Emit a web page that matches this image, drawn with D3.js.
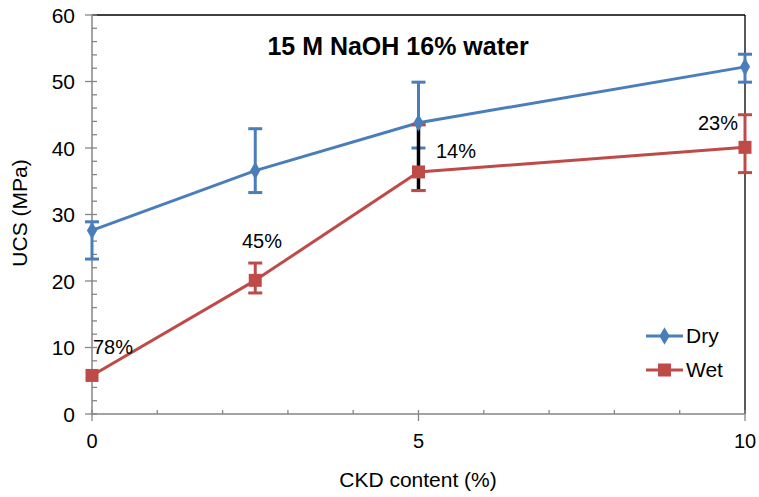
<!DOCTYPE html>
<html><head><meta charset="utf-8">
<script src="https://cdn.jsdelivr.net/npm/d3@7"></script>
<style>body{margin:0;background:#fff}svg{display:block;font-family:"Liberation Sans",Arial,sans-serif}</style>
</head><body><svg id="c" width="759" height="497"></svg>
<script>
const xVals = [0, 2.5, 5, 10];
const dry = [27.6, 36.6, 43.8, 52.2];
const dryLo = [23.3, 33.3, 40.0, 49.9];
const dryHi = [28.9, 42.9, 49.9, 54.1];
const wet = [5.8, 20.1, 36.4, 40.1];
const wetLo = [5.8, 18.2, 33.6, 36.3];
const wetHi = [5.8, 22.7, 43.5, 45.0];
const labels = ["78%", "45%", "14%", "23%"];
const xTicks = [0, 5, 10];
const yTicks = [0, 10, 20, 30, 40, 50, 60];
const title = "15 M NaOH 16% water";

const svg = d3.select("#c");
const L = 92, T = 15, R = 745, B = 414;
const x = d3.scaleLinear().domain([0, 10]).range([L, R]);
const y = d3.scaleLinear().domain([0, 60]).range([B, T]);
const blue = "#4a7ebb", red = "#be4b48", gray = "#868686";

// frame top/right
svg.append("line").attr("x1", L).attr("x2", R).attr("y1", T).attr("y2", T).attr("stroke", "#000").attr("stroke-width", 1.3);
svg.append("line").attr("x1", R).attr("x2", R).attr("y1", T).attr("y2", B).attr("stroke", "#000").attr("stroke-width", 1.3);

// y axis
const ga = svg.append("g");
ga.append("line").attr("x1", L).attr("x2", L).attr("y1", T).attr("y2", B).attr("stroke", gray).attr("stroke-width", 1.5);
d3.range(0, 61, 2).forEach(v => {
  const major = v % 10 === 0;
  ga.append("line").attr("x1", major ? L - 7 : L).attr("x2", L + 5).attr("y1", y(v)).attr("y2", y(v)).attr("stroke", gray).attr("stroke-width", 1.3);
});
yTicks.forEach(v => ga.append("text").attr("x", 75).attr("y", y(v)).attr("dy", "0.36em").attr("text-anchor", "end").attr("font-size", 21).text(v));
// x axis
ga.append("line").attr("x1", L).attr("x2", R).attr("y1", B).attr("y2", B).attr("stroke", gray).attr("stroke-width", 1.5);
d3.range(0, 11, 1).forEach(v => {
  const major = v % 5 === 0;
  ga.append("line").attr("x1", x(v)).attr("x2", x(v)).attr("y1", B - 4).attr("y2", major ? B + 7 : B).attr("stroke", gray).attr("stroke-width", 1.3);
});
xTicks.forEach(v => ga.append("text").attr("x", x(v)).attr("y", 448).attr("text-anchor", "middle").attr("font-size", 20).text(v));

// axis titles
svg.append("text").attr("x", 418).attr("y", 487).attr("text-anchor", "middle").attr("font-size", 21).text("CKD content (%)");
svg.append("text").attr("transform", "translate(27,213) rotate(-90)").attr("text-anchor", "middle").attr("font-size", 21).text("UCS (MPa)");
svg.append("text").attr("x", 398).attr("y", 55).attr("text-anchor", "middle").attr("font-size", 25).attr("font-weight", "bold").text(title);

function series(vals, lo, hi, color) {
  const line = d3.line().x((d, i) => x(xVals[i])).y(d => y(d));
  svg.append("path").datum(vals).attr("d", line).attr("fill", "none").attr("stroke", color).attr("stroke-width", 3);
  vals.forEach((v, i) => {
    if (hi[i] === lo[i]) return;
    const cx = x(xVals[i]);
    svg.append("line").attr("x1", cx).attr("x2", cx).attr("y1", y(lo[i])).attr("y2", y(hi[i])).attr("stroke", color).attr("stroke-width", 3);
    [lo[i], hi[i]].forEach(e => svg.append("line").attr("x1", cx - 7).attr("x2", cx + 7).attr("y1", y(e)).attr("y2", y(e)).attr("stroke", color).attr("stroke-width", 3));
  });
}
series(dry, dryLo, dryHi, blue);
series(wet, wetLo, wetHi, red);
// black bar at x=5 over the wet error range
svg.append("line").attr("x1", x(5)).attr("x2", x(5)).attr("y1", y(wetHi[2])).attr("y2", y(wetLo[2])).attr("stroke", "#000").attr("stroke-width", 3.5);
[wetLo[2], wetHi[2]].forEach(e => svg.append("line").attr("x1", x(5) - 7).attr("x2", x(5) + 7).attr("y1", y(e)).attr("y2", y(e)).attr("stroke", red).attr("stroke-width", 3));

// markers
dry.forEach((v, i) => svg.append("path").attr("d", d3.symbol(d3.symbolDiamond, 90)()).attr("transform", `translate(${x(xVals[i])},${y(v)})`).attr("fill", blue));
wet.forEach((v, i) => svg.append("rect").attr("x", x(xVals[i]) - 6.5).attr("y", y(v) - 6.5).attr("width", 13).attr("height", 13).attr("fill", red));

// percent labels
const lblPos = [[93, 354], [242, 248], [436, 158], [698, 130]];
labels.forEach((t, i) => svg.append("text").attr("x", lblPos[i][0]).attr("y", lblPos[i][1]).attr("font-size", 20).text(t));

// legend
const leg = [["Dry", blue, 336, "d"], ["Wet", red, 370, "s"]];
leg.forEach(([t, c, ly, m]) => {
  svg.append("line").attr("x1", 646).attr("x2", 683).attr("y1", ly).attr("y2", ly).attr("stroke", c).attr("stroke-width", 3);
  if (m === "d") svg.append("path").attr("d", d3.symbol(d3.symbolDiamond, 90)()).attr("transform", `translate(664.5,${ly})`).attr("fill", c);
  else svg.append("rect").attr("x", 658).attr("y", ly - 6.5).attr("width", 13).attr("height", 13).attr("fill", c);
  svg.append("text").attr("x", 686).attr("y", ly + 7).attr("font-size", 21).text(t);
});
</script></body></html>
